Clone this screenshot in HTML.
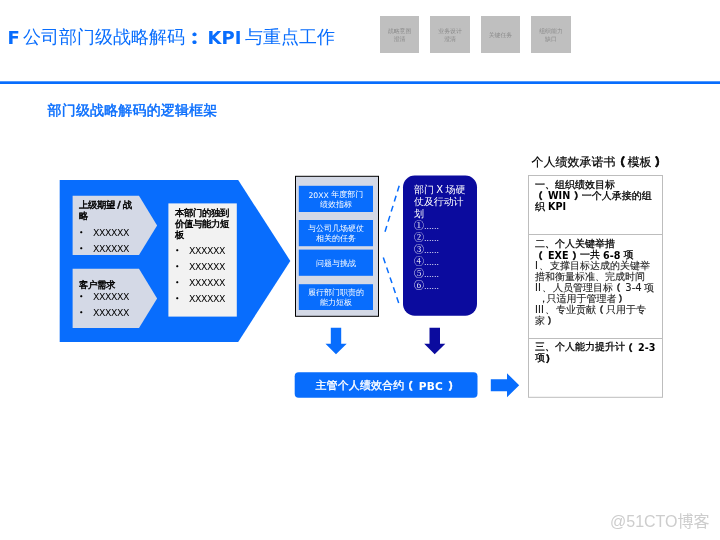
<!DOCTYPE html>
<html lang="zh-CN">
<head>
<meta charset="utf-8">
<title>F 公司部门级战略解码</title>
<style>
html,body{margin:0;padding:0;background:#fff;}
body{width:720px;height:540px;position:relative;overflow:hidden;
  font-family:"DejaVu Sans","WenQuanYi Zen Hei","Liberation Sans",sans-serif;}
#page{position:absolute;left:0;top:0;width:720px;height:540px;overflow:hidden;will-change:transform;background:#fff;}
.abs{position:absolute;white-space:nowrap;}
.b{font-weight:bold;-webkit-text-stroke:0.45px currentColor;}
.lb{font-weight:bold;}
.ti{top:26.6px;font-size:18px;line-height:22px;color:#086dfd;}
.tc{font-family:"Noto Sans CJK JP","WenQuanYi Zen Hei",sans-serif;font-weight:900;-webkit-text-stroke:0.3px currentColor;}
.tag{top:16.3px;width:39.8px;height:36.5px;background:#bfbfbf;color:#8a8a8a;font-size:5.9px;line-height:7.3px;
  display:flex;align-items:center;justify-content:center;text-align:center;box-sizing:border-box;padding-top:2.4px;}
#sub{left:47.6px;top:101.2px;font-size:14px;line-height:18px;color:#086dfd;letter-spacing:0.15px;}
svg{position:absolute;left:0;top:0;}
.t9{font-size:9.33px;line-height:11px;color:#000;letter-spacing:-0.33px;word-spacing:-0.6px;}
.x{letter-spacing:-0.39px;font-size:9.33px;line-height:16px;color:#000;}
.bu{font-size:7.6px;margin-top:-0.4px;margin-left:0.6px;}
.bx{left:298.8px;width:74.2px;height:26.2px;color:#fff;font-size:8px;line-height:10px;
  display:flex;align-items:center;justify-content:center;text-align:center;box-sizing:border-box;padding-top:1.6px;}
.la{position:relative;top:0.9px;font-size:7.7px;}
#dk{left:414px;top:184px;color:#fff;font-size:10px;line-height:12px;letter-spacing:-0.1px;word-spacing:-0.6px;}
#dk2{left:414px;top:219px;color:#fff;font-size:10px;line-height:12px;font-family:"Noto Serif CJK SC","WenQuanYi Zen Hei",serif;}
#dk2 .d{font-family:"DejaVu Sans",sans-serif;font-size:7.5px;line-height:1px;}
#pbc{left:315.5px;top:372px;height:26px;color:#fff;font-size:11px;line-height:26px;-webkit-text-stroke:0.35px #fff;font-weight:bold;letter-spacing:0.1px;}
#pbc .p{font-size:10px;width:11px;}
#pbc .l{font-size:10.6px;top:0.8px;letter-spacing:0.2px;}
#pbc .pr{text-indent:2px;}
#tt{left:531.5px;top:153.5px;font-size:12px;line-height:16px;color:#000;-webkit-text-stroke:0.2px #000;}
.cell{left:535px;font-size:10px;line-height:11px;color:#000;}
.cell.b{-webkit-text-stroke:0.28px currentColor;}
.l{position:relative;top:0.7px;-webkit-text-stroke:0 transparent;font-size:9.6px;letter-spacing:0.02px;word-spacing:-0.4px;}
.r{word-spacing:-2.1px;margin-right:1px;}
.n{position:relative;top:0.6px;word-spacing:-0.8px;}
.p{font-family:"Noto Sans CJK SC","WenQuanYi Zen Hei",sans-serif;font-weight:900;-webkit-text-stroke:0.45px currentColor;line-height:0;font-size:9px;display:inline-block;width:10px;position:relative;top:0.5px;}
.pl{text-indent:-1.5px;}
.pr{text-indent:1px;width:8.6px;}
.q{font-family:"Noto Sans CJK SC","WenQuanYi Zen Hei",sans-serif;font-weight:900;line-height:0;font-size:9px;display:inline-block;width:10px;position:relative;top:0.5px;-webkit-text-stroke:0.2px currentColor;}
.cm{display:inline-block;width:11.6px;text-indent:3.4px;line-height:0;}
.g{color:#1c1c1c;-webkit-text-stroke:0.1px #1c1c1c;}
.tp{font-family:"Noto Sans CJK SC","WenQuanYi Zen Hei",sans-serif;font-weight:900;font-size:11px;display:inline-block;width:12px;line-height:0;-webkit-text-stroke:0.7px #000;}
#wm{left:610px;top:512.2px;font-family:"Liberation Sans","Noto Sans CJK SC",sans-serif;font-size:16px;line-height:20px;color:#cdcdcd;}
</style>
</head>
<body>
<div id="page">
<div class="abs ti lb" style="left:7.5px">F</div>
<div class="abs ti" style="left:23px;top:25.8px">公司部门级战略解码</div>
<div class="abs ti tc" style="left:185.4px;top:25.8px;transform:scaleY(0.86)">：</div>
<div class="abs ti lb" style="left:207.5px">KPI</div>
<div class="abs ti" style="left:245px;top:25.8px">与重点工作</div>

<div class="abs tag" style="left:380.1px;width:38.9px">战略意图<br>澄清</div>
<div class="abs tag" style="left:430.3px;width:39.6px">业务设计<br>澄清</div>
<div class="abs tag" style="left:481px;width:38.9px">关键任务</div>
<div class="abs tag" style="left:531.2px;width:39.6px">组织能力<br>缺口</div>
<div id="sub" class="abs b">部门级战略解码的逻辑框架</div>

<svg width="720" height="540" viewBox="0 0 720 540">
  <rect x="0" y="81.3" width="720" height="2.7" fill="#086dfd"/>
  <!-- big arrow -->
  <polygon points="59.7,180 238.2,180 290.3,260.9 238.2,341.9 59.7,341.9" fill="#086dfd"/>
  <polygon points="72.6,195.8 139,195.8 157.1,225.4 139,255 72.6,255" fill="#d4d9e6"/>
  <polygon points="72.6,268.8 139,268.8 157.1,298.4 139,328 72.6,328" fill="#d4d9e6"/>
  <rect x="168.4" y="203.4" width="68.4" height="113.2" fill="#f2f2f2"/>
  <!-- middle box -->
  <rect x="295.5" y="176.3" width="83" height="140" fill="#d4d9e6" stroke="#000" stroke-width="1"/>
  <rect x="298.8" y="185.8" width="74.2" height="26.2" fill="#086dfd"/>
  <rect x="298.8" y="220" width="74.2" height="26.2" fill="#086dfd"/>
  <rect x="298.8" y="249.6" width="74.2" height="26.2" fill="#086dfd"/>
  <rect x="298.8" y="284.2" width="74.2" height="25.8" fill="#086dfd"/>
  <!-- dashed -->
  <line x1="399.2" y1="185.8" x2="385" y2="231.7" stroke="#086dfd" stroke-width="1.5" stroke-dasharray="6 4.5"/>
  <line x1="383.3" y1="257.5" x2="398.7" y2="303" stroke="#086dfd" stroke-width="1.5" stroke-dasharray="6 4.5"/>
  <!-- dark -->
  <rect x="403" y="175.5" width="74" height="140.3" rx="11.7" ry="11.7" fill="#0b0b9e"/>
  <!-- down arrows -->
  <polygon points="330.8,327.8 341.2,327.8 341.2,343.8 346.7,343.8 336,354.2 325.5,343.8 330.8,343.8" fill="#086dfd"/>
  <polygon points="429.5,327.8 440,327.8 440,343.8 445.3,343.8 434.7,354.2 424.2,343.8 429.5,343.8" fill="#0b0b9e"/>
  <!-- pbc -->
  <rect x="294.7" y="372.2" width="182.8" height="25.6" rx="4" ry="4" fill="#086dfd"/>
  <polygon points="490.8,379.2 507,379.2 507,373.3 519.2,385.2 507,397.2 507,391.2 490.8,391.2" fill="#086dfd"/>
  <!-- table -->
  <rect x="528.5" y="175.5" width="134" height="221.8" fill="#fff" stroke="#bdbdbd" stroke-width="1"/>
  <line x1="528.5" y1="234.5" x2="662.5" y2="234.5" stroke="#bdbdbd" stroke-width="1"/>
  <line x1="528.5" y1="338.5" x2="662.5" y2="338.5" stroke="#bdbdbd" stroke-width="1"/>
</svg>

<div class="abs t9 b" style="left:79px;top:198.8px;">上级期望 / 战<br>略</div>
<div class="abs x bu" style="left:78.5px;top:225px;">•<br>•</div>
<div class="abs x" style="left:93px;top:225px;">XXXXXX<br>XXXXXX</div>

<div class="abs t9 b" style="left:79px;top:279.3px;">客户需求</div>
<div class="abs x bu" style="left:78.5px;top:289px;">•<br>•</div>
<div class="abs x" style="left:93px;top:289px;">XXXXXX<br>XXXXXX</div>

<div class="abs t9 b" style="left:175px;top:207px;">本部门的独到<br>价值与能力短<br>板</div>
<div class="abs x bu" style="left:174.5px;top:243px;">•<br>•<br>•<br>•</div>
<div class="abs x" style="left:189px;top:243px;">XXXXXX<br>XXXXXX<br>XXXXXX<br>XXXXXX</div>

<div class="abs bx" style="top:185.8px"><div><span class="la">20XX</span> 年度部门<br>绩效指标</div></div>
<div class="abs bx" style="top:220px"><div>与公司几场硬仗<br>相关的任务</div></div>
<div class="abs bx" style="top:249.6px;padding-top:2.6px"><div>问题与挑战</div></div>
<div class="abs bx" style="top:284px"><div>履行部门职责的<br>能力短板</div></div>

<div id="dk" class="abs">部门 X 场硬<br>仗及行动计<br>划</div>
<div id="dk2" class="abs">①<span class="d">……</span><br>②<span class="d">……</span><br>③<span class="d">……</span><br>④<span class="d">……</span><br>⑤<span class="d">……</span><br>⑥<span class="d">……</span></div>

<div id="pbc" class="abs">主管个人绩效合约<span class="p pl">（</span><span class="l"> PBC </span><span class="p pr">）</span></div>

<div id="tt" class="abs">个人绩效承诺书<span class="tp" style="text-indent:-1.6px">（</span>模板<span class="tp" style="text-indent:3.6px">）</span></div>
<div class="abs cell b" style="top:178.8px">一、组织绩效目标<br><span class="p pl">（</span><span class="l"> WIN </span><span class="p pr">）</span>一个人承接的组<br>织<span class="l"> KPI</span></div>
<div class="abs cell b" style="top:238.2px">二、个人关键举措<br><span class="p pl">（</span><span class="l"> EXE </span><span class="p pr">）</span>一共<span class="l"> 6-8 </span>项</div>
<div class="abs cell g" style="top:260.2px"><span class="r">I 、</span>支撑目标达成的关键举<br>措和衡量标准、完成时间</div>
<div class="abs cell g" style="top:281.6px"><span class="r">II 、</span>人员管理目标<span class="q pl">（</span><span class="n"> 3-4 </span>项<br><span class="cm">，</span>只适用于管理者<span class="q pr" style="text-indent:2px">）</span><br><span class="r">III 、</span>专业贡献<span class="q pl">（</span>只用于专<br>家<span class="q pr" style="text-indent:2.5px">）</span></div>
<div class="abs cell b" style="top:341.4px">三、个人能力提升计<span class="p pl">（</span><span class="l"> 2-3</span><br>项<span class="p pr">）</span></div>

<div id="wm" class="abs">@51CTO博客</div>
</div>
</body>
</html>
